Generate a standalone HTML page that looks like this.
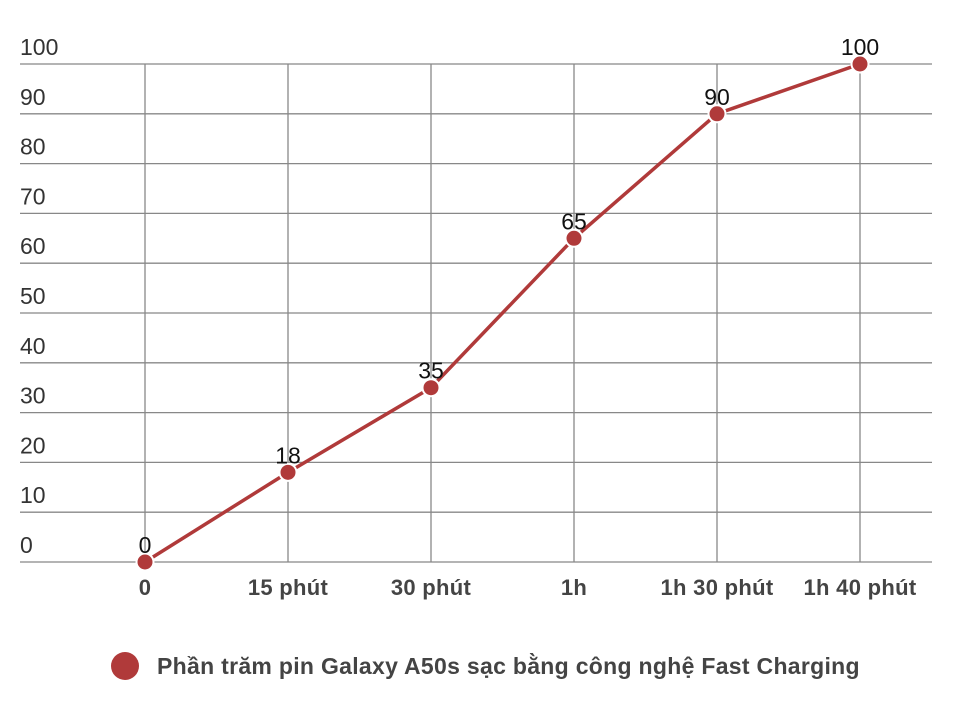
<!DOCTYPE html>
<html><head><meta charset="utf-8"><style>
body{margin:0;background:#fff;width:960px;height:702px;overflow:hidden}
text{font-family:"Liberation Sans",sans-serif}
</style></head><body>
<svg width="960" height="702">
<g id="grid"></g><g id="series"></g><g id="legend"></g>
</svg>
<script>
const categories=["0","15 phút","30 phút","1h","1h 30 phút","1h 40 phút"];
const values=[0,18,35,65,90,100];
const yTicks=[0,10,20,30,40,50,60,70,80,90,100];
const NS="http://www.w3.org/2000/svg";
const x0=145,xStep=143,yBase=562,yTop=64,left=20,right=932;
const xs=i=>x0+i*xStep;
const ys=v=>yBase-(v/100)*(yBase-yTop);
function mk(tag,attrs,parent,txt){const e=document.createElementNS(NS,tag);for(const k in attrs)e.setAttribute(k,attrs[k]);if(txt!==undefined)e.textContent=txt;parent.appendChild(e);return e;}
const grid=document.getElementById('grid'),series=document.getElementById('series'),legend=document.getElementById('legend');
yTicks.forEach(t=>{
 const l=mk('line',{x1:left,x2:right,y1:ys(t),y2:ys(t),stroke:'#888','stroke-width':1.3},grid);
 
 
 const tx=mk('text',{x:left,y:ys(t)-9,'font-size':23,fill:'#333'},grid,String(t));
 
 
});
categories.forEach((c,i)=>{
 const l=mk('line',{x1:xs(i),x2:xs(i),y1:yTop,y2:yBase,stroke:'#888','stroke-width':1.3},grid);
 
 
 const tx=mk('text',{x:xs(i),y:595,'font-size':22,'font-weight':'bold',fill:'#444','text-anchor':'middle','letter-spacing':0.3},grid,c);
 
 
});
const pl=mk('polyline',{points:values.map((v,i)=>xs(i)+','+ys(v)).join(' '),fill:'none',stroke:'#b03a3a','stroke-width':3.5},series);


values.forEach((v,i)=>{
 const c=mk('circle',{cx:xs(i),cy:ys(v),r:8.5,fill:'#b03a3a',stroke:'#fff','stroke-width':2},series);
 
 
 const t=mk('text',{x:xs(i),y:ys(v)-9,'font-size':23,fill:'#111','text-anchor':'middle'},series,String(v));
 
 
});
const lm=mk('circle',{cx:125,cy:666,r:14,fill:'#b03a3a'},legend);


const lt=mk('text',{x:157,y:674,'font-size':23,'font-weight':'bold',fill:'#444','letter-spacing':0.3},legend,'Phần trăm pin Galaxy A50s sạc bằng công nghệ Fast Charging');


</script>
</body></html>
